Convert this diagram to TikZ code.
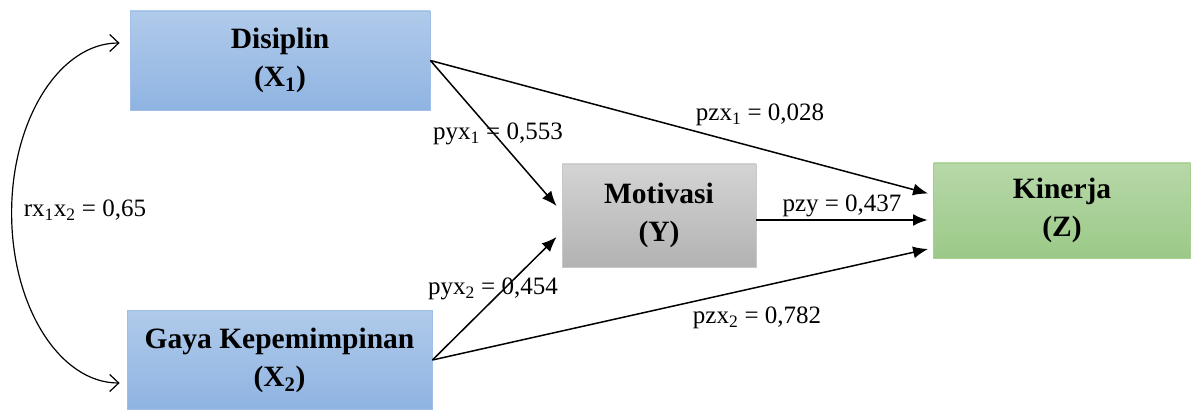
\documentclass[tikz,border=0pt]{standalone}
\usepackage{fontspec}
\setmainfont{Liberation Serif}
\usetikzlibrary{arrows.meta,calc}
\newcommand\sbs[1]{\textsubscript{#1}}
\tikzset{
  box/.style={rectangle, inner sep=0pt, align=center, font=\fontsize{29.5}{38}\selectfont\bfseries, line width=0.8pt},
  bluebox/.style={box, draw={rgb,255:red,160;green,190;blue,230}, top color={rgb,255:red,176;green,202;blue,234}, bottom color={rgb,255:red,143;green,180;blue,226}},
  greybox/.style={box, draw={rgb,255:red,200;green,200;blue,200}, top color={rgb,255:red,212;green,212;blue,212}, bottom color={rgb,255:red,178;green,178;blue,178}},
  greenbox/.style={box, draw={rgb,255:red,168;green,208;blue,141}, top color={rgb,255:red,183;green,216;blue,168}, bottom color={rgb,255:red,155;green,201;blue,136}},
  lbl/.style={font=\fontsize{25}{28}\selectfont, inner sep=0pt},
  path/.style={line width=1.5pt, -{Latex[length=15pt,width=12pt]}},
}
\begin{document}
\begin{tikzpicture}[x=1pt,y=1pt]
\useasboundingbox (0,0) rectangle (1192,410);
\node[bluebox, minimum width=300pt, minimum height=99pt] (X1) at (280,349.5) {Disiplin\\(X\sbs{1})};
\node[bluebox, minimum width=305pt, minimum height=99pt] (X2) at (279.5,50) {Gaya Kepemimpinan\\(X\sbs{2})};
\node[greybox, minimum width=194pt, minimum height=103pt] (Y) at (659,194.5) {Motivasi\\(Y)};
\node[greenbox, minimum width=257pt, minimum height=95pt] (Z) at (1062,199.5) {Kinerja\\(Z)};

\coordinate (c1) at ($(X1.west)+(-10,17.5)$);
\draw[line width=1.2pt, {Straight Barb[length=9pt,width=17pt]}-{Straight Barb[length=9pt,width=17pt]}]
  (c1) arc[start angle=90, end angle=270, x radius=108pt, y radius=170pt] coordinate (c2);

\draw[path] (X1.east) -- ($(Y.west)+(-5,9.5)$);
\draw[path] (X1.east) -- ($(Z.west)+(-5,17)$);
\draw[line width=2.8pt, -{Latex[length=15pt,width=12pt]}] ($(Y.east)+(0,-4.5)$) -- ($(Z.west)+(-5,-9.5)$);
\draw[path] (X2.east) -- ($(Y.west)+(-5,-21.5)$);
\draw[path] (X2.east) -- ($(Z.west)+(-5,-38.5)$);

\node[lbl] (l1) at (85,200) {rx\sbs{1}x\sbs{2} = 0,65};
\node[lbl] (l2) at (498,276) {pyx\sbs{1} = 0,553};
\node[lbl] (l3) at (760,295) {pzx\sbs{1} = 0,028};
\node[lbl] (l4) at (842,204) {pzy = 0,437};
\node[lbl] (l5) at (493,121) {pyx\sbs{2} = 0,454};
\node[lbl] (l6) at (757,92) {pzx\sbs{2} = 0,782};
\end{tikzpicture}
\end{document}
